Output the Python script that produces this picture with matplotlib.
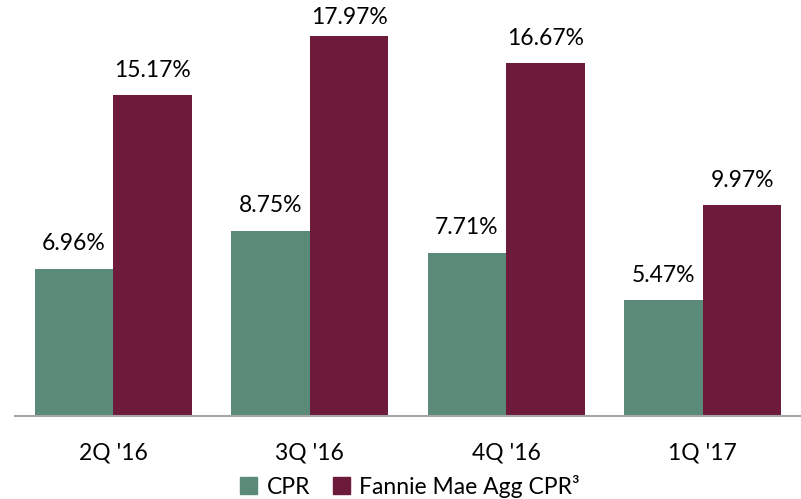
import matplotlib
matplotlib.use("Agg")
import matplotlib.pyplot as plt
import numpy as np
from matplotlib.patches import Patch

quarters = ["2Q '16", "3Q '16", "4Q '16", "1Q '17"]
cpr = [6.96, 8.75, 7.71, 5.47]
fannie = [15.17, 17.97, 16.67, 9.97]

green = "#5b8a78"
maroon = "#6d1a3b"

plt.rcParams['font.family'] = ['Lato', 'DejaVu Sans']
fs = 16.5

fig = plt.figure(figsize=(8.01, 4.99), dpi=100)
ax = fig.add_axes([15 / 801, 83 / 499, 786 / 801, 416 / 499])

x = np.arange(len(quarters))
w = 0.4
b1 = ax.bar(x - w / 2, cpr, w, color=green, label="CPR")
b2 = ax.bar(x + w / 2, fannie, w, color=maroon, label="Fannie Mae Agg CPR³")

ymax = 19.67
for bars, vals in [(b1, cpr), (b2, fannie)]:
    for bar, v in zip(bars, vals):
        # keep label inside the plot area like excel does
        ty = min(v + 1.18, ymax - 0.85)
        ax.text(bar.get_x() + bar.get_width() / 2, ty, f"{v:.2f}%",
                ha="center", va="center", fontsize=fs)

ax.set_xlim(-0.5, 3.5)
ax.set_ylim(0, ymax)
ax.set_xticks(x)
ax.set_xticklabels(quarters, fontsize=fs)
ax.tick_params(axis='x', length=0, pad=19)
ax.set_yticks([])
for s in ['top', 'right', 'left']:
    ax.spines[s].set_visible(False)
ax.spines['bottom'].set_color('#a6a6a6')
ax.spines['bottom'].set_linewidth(1.5)

handles = [Patch(color=green), Patch(color=maroon)]
fig.legend(handles, ["CPR", "Fannie Mae Agg CPR³"], loc='center',
           bbox_to_anchor=(410 / 801, 1 - 486 / 499), ncol=2, frameon=False,
           fontsize=fs, handlelength=0.75, handleheight=0.75,
           handletextpad=0.4, columnspacing=1.0, borderpad=0)

fig.savefig("out.png", dpi=100)
